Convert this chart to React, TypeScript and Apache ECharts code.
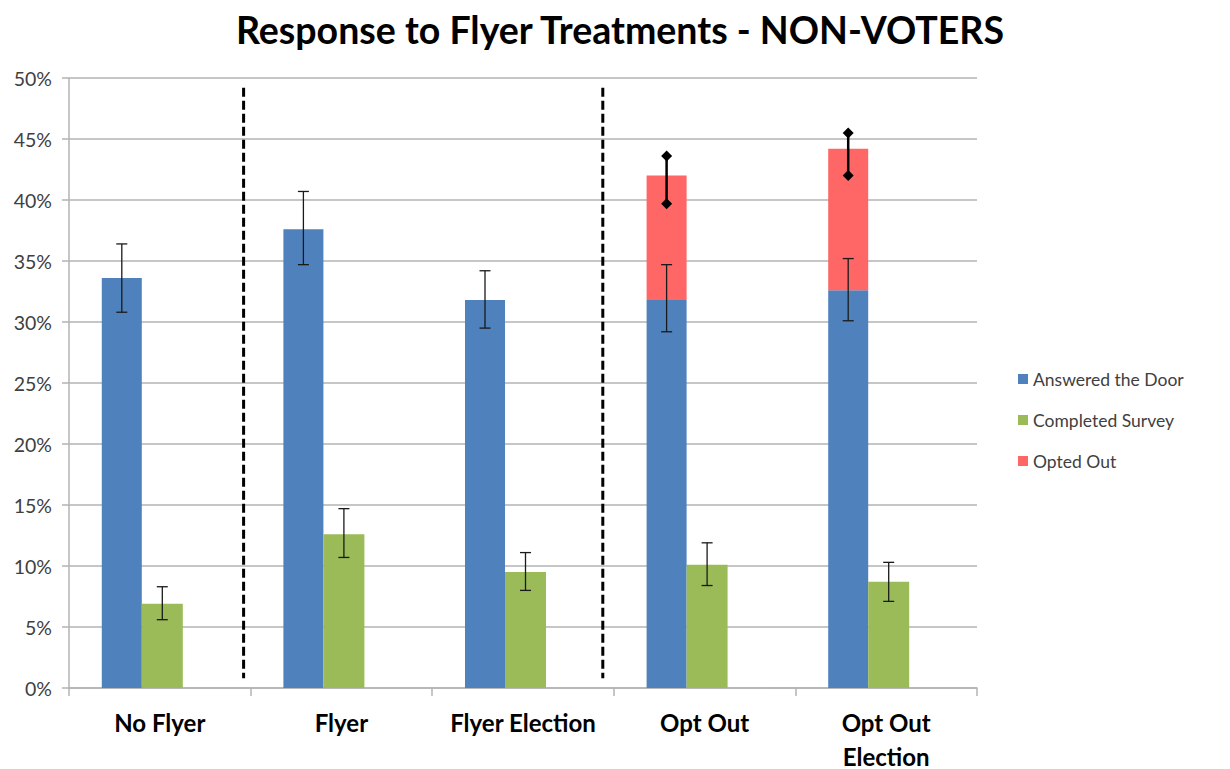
import React, { useEffect, useRef } from "react";
import * as echarts from "echarts";

const categories = ["No Flyer", "Flyer", "Flyer Election", "Opt Out", "Opt Out\nElection"];
const answeredDoor = [33.6, 37.6, 31.8, 31.8, 32.6];
const completedSurvey = [6.9, 12.6, 9.5, 10.1, 8.7];
const optedOut = [null, null, null, 10.2, 11.6];
const answeredLow = [30.8, 34.7, 29.5, 29.2, 30.1];
const answeredHigh = [36.4, 40.7, 34.2, 34.7, 35.2];
const surveyLow = [5.6, 10.7, 8.0, 8.4, 7.1];
const surveyHigh = [8.3, 14.7, 11.1, 11.9, 10.3];
const optedIdx = [3, 4];
const optedLow = [39.7, 42.0];
const optedHigh = [43.6, 45.5];
const yTicks = { min: 0, max: 50, interval: 5 };
const dividerAfter = [0, 2];

const FONT = "Lato, 'Open Sans', sans-serif";

export default function App() {
  const ref = useRef<HTMLDivElement>(null);
  useEffect(() => {
    if (!ref.current) return;
    const chart = echarts.init(ref.current, undefined, { renderer: "svg" });

    const errItem = (offset: number, capW: number) => (params: any, api: any) => {
      const i = api.value(0);
      const lo = api.coord([i, api.value(1)]);
      const hi = api.coord([i, api.value(2)]);
      const x = lo[0] + offset;
      const st = { stroke: "#1a1a1a", lineWidth: 1.3 };
      return {
        type: "group",
        children: [
          { type: "line", shape: { x1: x, y1: lo[1], x2: x, y2: hi[1] }, style: st },
          { type: "line", shape: { x1: x - capW / 2, y1: lo[1], x2: x + capW / 2, y2: lo[1] }, style: st },
          { type: "line", shape: { x1: x - capW / 2, y1: hi[1], x2: x + capW / 2, y2: hi[1] }, style: st },
        ],
      };
    };

    const diamond = (x: number, y: number, r: number) => ({
      type: "polygon",
      shape: { points: [[x, y - r], [x + r, y], [x, y + r], [x - r, y]] },
      style: { fill: "#000" },
    });

    const optedErr = (params: any, api: any) => {
      const i = api.value(0);
      const lo = api.coord([i, api.value(1)]);
      const hi = api.coord([i, api.value(2)]);
      const x = lo[0] - 38;
      return {
        type: "group",
        children: [
          { type: "line", shape: { x1: x, y1: lo[1], x2: x, y2: hi[1] }, style: { stroke: "#000", lineWidth: 2.5 } },
          diamond(x, lo[1], 5.5),
          diamond(x, hi[1], 5.5),
        ],
      };
    };

    const dividerOffsets = [-7, -11];
    const divider = (params: any, api: any) => {
      const i = api.value(0);
      const a = api.coord([i, api.value(1)]);
      const b = api.coord([i + 1, api.value(2)]);
      const x = (a[0] + b[0]) / 2 + dividerOffsets[params.dataIndex];
      return {
        type: "line",
        shape: { x1: x, y1: a[1], x2: x, y2: b[1] },
        style: { stroke: "#000", lineWidth: 3, lineDash: [9, 4] },
      };
    };

    chart.setOption({
      animation: false,
      backgroundColor: "#fff",
      title: {
        text: "Response to Flyer Treatments - NON-VOTERS",
        left: 615,
        top: 5,
        textAlign: "center",
        textStyle: { fontFamily: FONT, fontWeight: "bold", fontSize: 37.5, color: "#000" },
      },
      legend: {
        orient: "vertical",
        left: 1013,
        top: 364,
        itemWidth: 10,
        itemHeight: 10,
        itemGap: 21,
        icon: "rect",
        data: ["Answered the Door", "Completed Survey", "Opted Out"],
        textStyle: { fontFamily: FONT, fontSize: 17.5, color: "#404040", lineHeight: 20 },
      },
      grid: { left: 69, right: 253, top: 78, bottom: 81, containLabel: false, outerBoundsMode: "none" },
      xAxis: {
        type: "category",
        data: categories,
        axisLine: { lineStyle: { color: "#b3b3b3", width: 1.5 } },
        axisTick: { show: true, length: 8, lineStyle: { color: "#b3b3b3", width: 1.5 } },
        axisLabel: {
          interval: 0,
          margin: 17,
          fontFamily: FONT,
          fontWeight: "bold",
          fontSize: 24,
          color: "#000",
          lineHeight: 34,
        },
      },
      yAxis: {
        type: "value",
        min: yTicks.min,
        max: yTicks.max,
        interval: yTicks.interval,
        axisLine: { show: true, lineStyle: { color: "#b3b3b3", width: 1.5 } },
        axisTick: { show: true, length: 7, lineStyle: { color: "#b3b3b3", width: 1.5 } },
        axisLabel: { formatter: "{value}%", margin: 17, fontFamily: FONT, fontSize: 19.5, color: "#404040" },
        splitLine: { lineStyle: { color: "#b3b3b3", width: 1.5 } },
      },
      series: [
        {
          name: "Answered the Door",
          type: "bar",
          stack: "door",
          data: answeredDoor,
          barWidth: 40,
          barGap: "0%",
          itemStyle: { color: "#4F81BD" },
        },
        {
          name: "Opted Out",
          type: "bar",
          stack: "door",
          data: optedOut,
          barWidth: 40,
          barGap: "0%",
          itemStyle: { color: "#FF6666" },
        },
        {
          name: "Completed Survey",
          type: "bar",
          data: completedSurvey,
          barWidth: 41,
          barGap: "0%",
          itemStyle: { color: "#9BBB59" },
        },
        {
          name: "spacer",
          type: "bar",
          data: categories.map(() => 0),
          barWidth: 35,
          barGap: "0%",
          itemStyle: { color: "transparent" },
          silent: true,
        },
        {
          type: "custom",
          z: 5,
          renderItem: errItem(-38, 11),
          encode: { x: 0, y: [1, 2] },
          data: answeredDoor.map((_, i) => [i, answeredLow[i], answeredHigh[i]]),
        },
        {
          type: "custom",
          z: 5,
          renderItem: errItem(2.5, 11),
          encode: { x: 0, y: [1, 2] },
          data: completedSurvey.map((_, i) => [i, surveyLow[i], surveyHigh[i]]),
        },
        {
          type: "custom",
          z: 6,
          renderItem: optedErr,
          encode: { x: 0, y: [1, 2] },
          data: optedIdx.map((idx, k) => [idx, optedLow[k], optedHigh[k]]),
        },
        {
          type: "custom",
          z: 6,
          renderItem: divider,
          encode: { x: 0, y: [1, 2] },
          data: dividerAfter.map((i) => [i, 49.2, 0.8]),
        },
      ],
    });
    return () => chart.dispose();
  }, []);
  return (
    <div
      ref={ref}
      style={{ position: "fixed", left: 0, top: 0, width: 1230, height: 769, background: "#fff" }}
    />
  );
}
